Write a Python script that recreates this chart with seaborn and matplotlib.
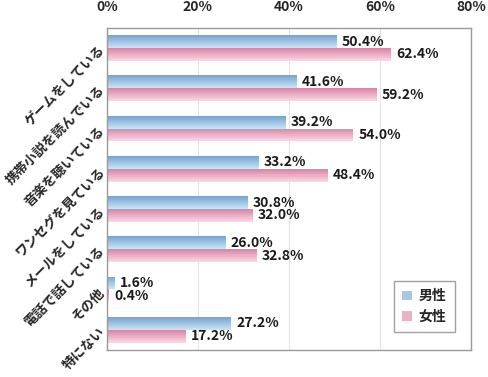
import numpy as np
import pandas as pd
import matplotlib
matplotlib.use('Agg')
import matplotlib.pyplot as plt
import seaborn as sns
from matplotlib.colors import to_rgba
from matplotlib.patches import Patch

categories = ['ゲームをしている', '携帯小説を読んでいる', '音楽を聴いている', 'ワンセグを見ている',
              'メールをしている', '電話で話している', 'その他', '特にない']
male = [50.4, 41.6, 39.2, 33.2, 30.8, 26.0, 1.6, 27.2]
female = [62.4, 59.2, 54.0, 48.4, 32.0, 32.8, 0.4, 17.2]
series = ['男性', '女性']
xticks = [0, 20, 40, 60, 80]

# gradient colours (top -> bottom of each bar)
grad = {'男性': ('#74a3d0', '#cfe3f4'), '女性': ('#da83a4', '#f8dbe6')}

sns.set_style('white')
plt.rcParams['font.family'] = ['Noto Sans CJK JP', 'DejaVu Sans']
plt.rcParams['font.weight'] = 'bold'

df = pd.DataFrame({
    'cat': categories * 2,
    'val': male + female,
    'sex': [series[0]] * len(categories) + [series[1]] * len(categories),
})

fig = plt.figure(figsize=(4.88, 3.77), dpi=100)
ax = fig.add_axes([0.219, 0.072, 0.746, 0.854])

sns.barplot(data=df, x='val', y='cat', hue='sex', orient='h', ax=ax,
            width=0.64, palette=[grad[s][0] for s in series], legend=False,
            saturation=1)

ax.set_xlim(0, 80)
ylim = ax.get_ylim()

# paint a vertical gradient into every bar
for cont, s in zip(ax.containers, series):
    c0 = np.array(to_rgba(grad[s][0]))
    c1 = np.array(to_rgba(grad[s][1]))
    t = np.linspace(0, 1, 64)[:, None, None]
    img = c0 * (1 - t) + c1 * t
    for p in cont.patches:
        p.set_facecolor('none')
        p.set_edgecolor('none')
        x0, y0 = p.get_x(), p.get_y()
        w, h = p.get_width(), p.get_height()
        im = ax.imshow(img, extent=(x0, x0 + w, y0 + h, y0), origin='upper',
                       aspect='auto', zorder=2, interpolation='bilinear')
        im.set_clip_path(p)
    ax.bar_label(cont, labels=[f'{v:.1f}%' for v in cont.datavalues],
                 padding=4, fontsize=10, fontweight='bold', color='#1a1a1a')

ax.set_xlim(0, 80)
ax.set_ylim(ylim)

ax.xaxis.tick_top()
ax.set_xticks(xticks)
ax.set_xticklabels([f'{v}%' for v in xticks], fontsize=10, fontweight='bold')
ax.tick_params(axis='x', length=0, pad=10)
ax.grid(axis='x', color='#e3e3e3', linewidth=0.8)
ax.set_axisbelow(True)

ax.set_yticks(range(len(categories)))
ax.set_yticklabels(categories, rotation=45, ha='right', va='center',
                   rotation_mode='anchor', fontsize=9.6, fontweight='bold')
ax.tick_params(axis='y', length=0, pad=3)
ax.set_yticks(np.arange(0.5, len(categories) - 1, 1), minor=True)
ax.tick_params(axis='y', which='minor', direction='in', length=3, color='#999999')

ax.set_xlabel('')
ax.set_ylabel('')
for sp in ax.spines.values():
    sp.set_visible(True)
    sp.set_color('#9a9a9a')
    sp.set_linewidth(1)

handles = [Patch(facecolor='#a8c7e6', edgecolor='none'),
           Patch(facecolor='#eab2c7', edgecolor='none')]
leg = ax.legend(handles, series, loc='lower right', bbox_to_anchor=(0.975, 0.034),
                frameon=True, fancybox=False, handlelength=0.7,
                handleheight=0.7, handletextpad=0.5, borderpad=0.6,
                labelspacing=0.45, prop={'weight': 'bold', 'size': 10})
leg.get_frame().set_edgecolor('#8a8a8a')
leg.get_frame().set_linewidth(1)

fig.savefig('out.png', dpi=100)
